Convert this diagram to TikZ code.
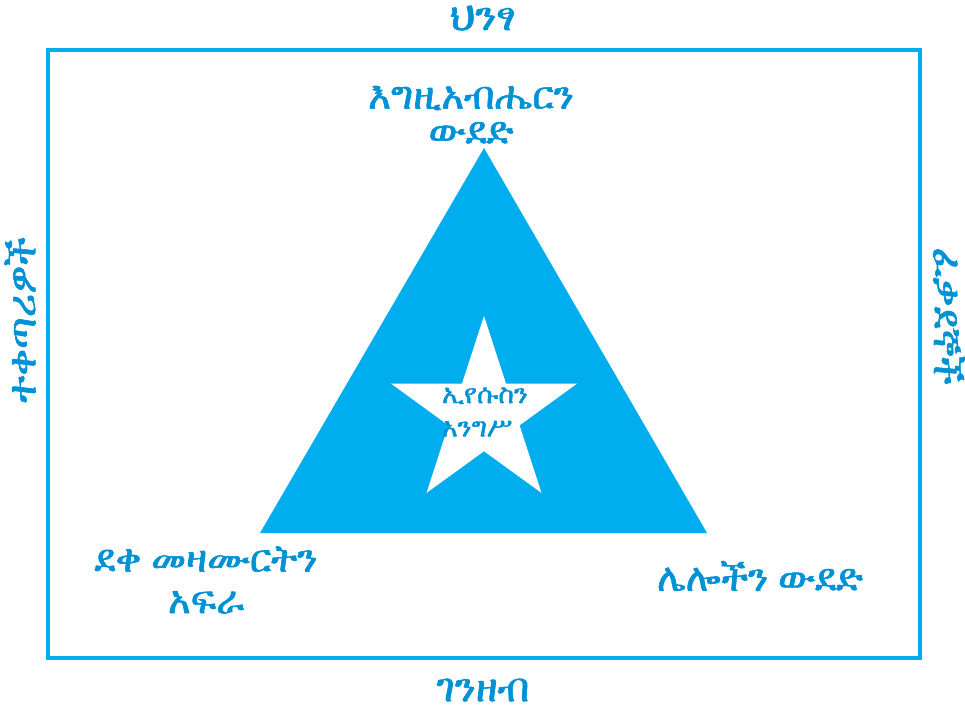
\documentclass[tikz,border=0pt]{standalone}
\usepackage{fontspec}
\usepackage{tikz}
\usetikzlibrary{positioning, calc}
\IfFontExistsTF{FreeSerif}{%
    \newfontfamily\ethfont[BoldFont=FreeSerif, BoldFeatures={FakeBold=1.6}]{FreeSerif}%
}{%
    \newfontfamily\ethfont{DejaVu Sans}%
}
\definecolor{skyblue}{RGB}{0,174,239}
\definecolor{labelblue}{RGB}{0,146,212}
\tikzset{
    outer_label/.style={
        text=labelblue,
        font=\ethfont\bfseries\fontsize{30}{32}\selectfont,
        inner sep=0pt
    },
    tri_label/.style={
        text=labelblue,
        font=\ethfont\bfseries\fontsize{29}{29}\selectfont,
        align=center,
        inner sep=0pt
    },
    star_label/.style={
        text=labelblue,
        font=\ethfont\bfseries\fontsize{20}{22}\selectfont,
        align=left,
        inner sep=0pt
    }
}

\begin{document}
\begin{tikzpicture}[x=0.75pt, y=-0.75pt]
    \useasboundingbox (0,0) rectangle (965,713);

    % Frame
    \draw[skyblue, line width=3pt] (48,50) rectangle (920,658);

    % Triangle
    \coordinate (apex) at (484,148);
    \coordinate (base_left) at (260,533);
    \coordinate (base_right) at (707,533);
    \fill[skyblue] (apex) -- (base_left) -- (base_right) -- cycle;

    % Star (regular, five points, tip up)
    \coordinate (star_mid) at (484,413.8);
    \fill[white] ($(star_mid)+(270:97.8)$)
        \foreach \k in {1,...,9} {
            -- ($(star_mid)+({270+36*\k}:{ifthenelse(mod(\k,2)==1,37.4,97.8)})$)
        } -- cycle;

    % Labels
    \node[outer_label] (building) at (483,18) {ህንፃ};
    \node[outer_label] (money) at (483,690) {ገንዘብ};
    \node[outer_label, rotate=90] (staff) at (20,320) {ተቀጣሪዎች};
    \node[outer_label, rotate=-90] (volunteers) at (949,316) {ፈቃደኞች};

    \node[tri_label, font=\ethfont\bfseries\fontsize{29}{26.5}\selectfont] (love_god) at (471,115) {እግዚአብሔርን\\ውደድ};
    \node[tri_label] (disciples) at (206,580) {ደቀ መዛሙርትን\\[2pt]አፍራ};
    \node[tri_label] (love_others) at (760,576) {ሌሎችን ውደድ};

    \node[star_label] (crown) at (485,412) {ኢየሱስን\\[3pt]አንግሥ};
\end{tikzpicture}
\end{document}
